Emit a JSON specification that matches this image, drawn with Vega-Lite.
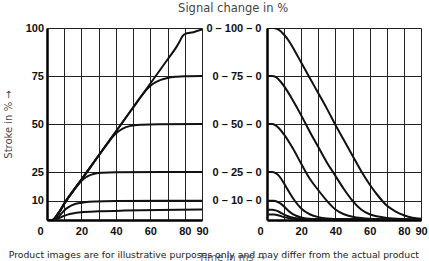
{
  "$schema": "https://vega.github.io/schema/vega-lite/v6.json",
  "background": "white",
  "padding": {"left": 3, "top": 2, "right": 0, "bottom": 0},
  "title": {"text": "Signal change in %", "font": "DejaVu Sans", "fontSize": 11.5, "fontWeight": "normal", "color": "#444", "anchor": "middle", "dx": 18, "offset": 8},
  "config": {
    "view": {"stroke": null},
    "axis": {
      "grid": true, "gridColor": "#222", "gridWidth": 1, "gridOpacity": 1,
      "domain": true, "domainColor": "#000", "domainWidth": 2.5,
      "ticks": false, "tickSize": 0,
      "labelFont": "Liberation Sans", "labelFontWeight": "bold", "labelFontSize": 11, "labelColor": "#111",
      "labelFlush": false, "labelOverlap": false, "labelBound": false
    }
  },
  "datasets": {
    "left": [
      {"c": "100", "t": 0, "v": 0}, {"c": "100", "t": 3, "v": 0}, {"c": "100", "t": 5, "v": 1.5}, {"c": "100", "t": 7, "v": 4}, {"c": "100", "t": 10, "v": 8.5}, {"c": "100", "t": 20, "v": 21}, {"c": "100", "t": 30, "v": 33.6}, {"c": "100", "t": 40, "v": 46.1}, {"c": "100", "t": 50, "v": 58.6}, {"c": "100", "t": 60, "v": 71.1}, {"c": "100", "t": 70, "v": 83.6}, {"c": "100", "t": 75, "v": 89.9}, {"c": "100", "t": 77, "v": 93}, {"c": "100", "t": 78.5, "v": 95.5}, {"c": "100", "t": 80, "v": 96.8}, {"c": "100", "t": 85, "v": 97.8}, {"c": "100", "t": 90, "v": 99.2},
      {"c": "75", "t": 0, "v": 0}, {"c": "75", "t": 3, "v": 0}, {"c": "75", "t": 5, "v": 1.5}, {"c": "75", "t": 7, "v": 4}, {"c": "75", "t": 10, "v": 8.5}, {"c": "75", "t": 20, "v": 21}, {"c": "75", "t": 30, "v": 33.6}, {"c": "75", "t": 40, "v": 46.1}, {"c": "75", "t": 50, "v": 58.6}, {"c": "75", "t": 53, "v": 62.4}, {"c": "75", "t": 56, "v": 66}, {"c": "75", "t": 59, "v": 69}, {"c": "75", "t": 62, "v": 71.2}, {"c": "75", "t": 66, "v": 73}, {"c": "75", "t": 70, "v": 74}, {"c": "75", "t": 75, "v": 74.6}, {"c": "75", "t": 80, "v": 74.9}, {"c": "75", "t": 90, "v": 75},
      {"c": "50", "t": 0, "v": 0}, {"c": "50", "t": 3, "v": 0}, {"c": "50", "t": 5, "v": 1.5}, {"c": "50", "t": 7, "v": 4}, {"c": "50", "t": 10, "v": 8.5}, {"c": "50", "t": 20, "v": 21}, {"c": "50", "t": 30, "v": 33.6}, {"c": "50", "t": 35, "v": 39.6}, {"c": "50", "t": 38, "v": 43.2}, {"c": "50", "t": 41, "v": 45.8}, {"c": "50", "t": 44, "v": 47.6}, {"c": "50", "t": 48, "v": 48.9}, {"c": "50", "t": 55, "v": 49.6}, {"c": "50", "t": 65, "v": 49.9}, {"c": "50", "t": 90, "v": 50},
      {"c": "25", "t": 0, "v": 0}, {"c": "25", "t": 3, "v": 0}, {"c": "25", "t": 5, "v": 1.5}, {"c": "25", "t": 7, "v": 4}, {"c": "25", "t": 10, "v": 8.5}, {"c": "25", "t": 15, "v": 14.8}, {"c": "25", "t": 17, "v": 17.2}, {"c": "25", "t": 19, "v": 19.4}, {"c": "25", "t": 21, "v": 21.2}, {"c": "25", "t": 24, "v": 23}, {"c": "25", "t": 27, "v": 24}, {"c": "25", "t": 32, "v": 24.6}, {"c": "25", "t": 40, "v": 24.9}, {"c": "25", "t": 90, "v": 25},
      {"c": "10", "t": 0, "v": 0}, {"c": "10", "t": 3, "v": 0}, {"c": "10", "t": 5, "v": 0.6}, {"c": "10", "t": 7, "v": 2}, {"c": "10", "t": 9, "v": 4}, {"c": "10", "t": 11, "v": 5.8}, {"c": "10", "t": 13, "v": 7}, {"c": "10", "t": 15, "v": 7.9}, {"c": "10", "t": 18, "v": 8.7}, {"c": "10", "t": 22, "v": 9.2}, {"c": "10", "t": 28, "v": 9.6}, {"c": "10", "t": 40, "v": 9.9}, {"c": "10", "t": 90, "v": 10},
      {"c": "5", "t": 0, "v": 0}, {"c": "5", "t": 3, "v": 0}, {"c": "5", "t": 5, "v": 0.3}, {"c": "5", "t": 7, "v": 1}, {"c": "5", "t": 9, "v": 1.8}, {"c": "5", "t": 12, "v": 2.8}, {"c": "5", "t": 15, "v": 3.4}, {"c": "5", "t": 20, "v": 4}, {"c": "5", "t": 30, "v": 4.5}, {"c": "5", "t": 45, "v": 4.9}, {"c": "5", "t": 65, "v": 5.2}, {"c": "5", "t": 90, "v": 5.5}
    ],
    "right": [
      {"c": "100", "t": 0, "v": 100}, {"c": "100", "t": 4, "v": 100}, {"c": "100", "t": 7, "v": 99}, {"c": "100", "t": 10, "v": 96.5}, {"c": "100", "t": 13, "v": 93}, {"c": "100", "t": 15, "v": 90}, {"c": "100", "t": 20, "v": 82}, {"c": "100", "t": 25, "v": 74}, {"c": "100", "t": 30, "v": 66}, {"c": "100", "t": 35, "v": 58}, {"c": "100", "t": 40, "v": 49.5}, {"c": "100", "t": 45, "v": 41.5}, {"c": "100", "t": 50, "v": 33.5}, {"c": "100", "t": 55, "v": 25.5}, {"c": "100", "t": 60, "v": 18.5}, {"c": "100", "t": 65, "v": 12.5}, {"c": "100", "t": 70, "v": 7.5}, {"c": "100", "t": 75, "v": 4.5}, {"c": "100", "t": 80, "v": 2.5}, {"c": "100", "t": 85, "v": 1.2}, {"c": "100", "t": 90, "v": 0.6},
      {"c": "75", "t": 0, "v": 75}, {"c": "75", "t": 3, "v": 75}, {"c": "75", "t": 5, "v": 74.5}, {"c": "75", "t": 8, "v": 72}, {"c": "75", "t": 12, "v": 67}, {"c": "75", "t": 15, "v": 62.5}, {"c": "75", "t": 20, "v": 54.5}, {"c": "75", "t": 25, "v": 46}, {"c": "75", "t": 30, "v": 38}, {"c": "75", "t": 35, "v": 30}, {"c": "75", "t": 40, "v": 23}, {"c": "75", "t": 45, "v": 16}, {"c": "75", "t": 50, "v": 10}, {"c": "75", "t": 55, "v": 5.5}, {"c": "75", "t": 60, "v": 3}, {"c": "75", "t": 65, "v": 1.8}, {"c": "75", "t": 70, "v": 1}, {"c": "75", "t": 80, "v": 0.4}, {"c": "75", "t": 90, "v": 0.2},
      {"c": "50", "t": 0, "v": 50}, {"c": "50", "t": 3, "v": 50}, {"c": "50", "t": 5, "v": 49.3}, {"c": "50", "t": 7, "v": 47.8}, {"c": "50", "t": 10, "v": 44.5}, {"c": "50", "t": 15, "v": 37.5}, {"c": "50", "t": 20, "v": 29.3}, {"c": "50", "t": 25, "v": 21.5}, {"c": "50", "t": 30, "v": 15.5}, {"c": "50", "t": 35, "v": 10}, {"c": "50", "t": 40, "v": 5.5}, {"c": "50", "t": 45, "v": 3}, {"c": "50", "t": 50, "v": 1.7}, {"c": "50", "t": 55, "v": 1}, {"c": "50", "t": 60, "v": 0.6}, {"c": "50", "t": 70, "v": 0.3}, {"c": "50", "t": 90, "v": 0.1},
      {"c": "25", "t": 0, "v": 25}, {"c": "25", "t": 3, "v": 25}, {"c": "25", "t": 5, "v": 24.4}, {"c": "25", "t": 7, "v": 23}, {"c": "25", "t": 10, "v": 19}, {"c": "25", "t": 13, "v": 14.5}, {"c": "25", "t": 16, "v": 10.3}, {"c": "25", "t": 20, "v": 6}, {"c": "25", "t": 25, "v": 3}, {"c": "25", "t": 30, "v": 1.5}, {"c": "25", "t": 35, "v": 0.8}, {"c": "25", "t": 45, "v": 0.4}, {"c": "25", "t": 90, "v": 0.1},
      {"c": "10", "t": 0, "v": 10}, {"c": "10", "t": 4, "v": 10}, {"c": "10", "t": 6, "v": 9.5}, {"c": "10", "t": 8, "v": 8.5}, {"c": "10", "t": 10, "v": 7}, {"c": "10", "t": 12, "v": 5.2}, {"c": "10", "t": 14, "v": 3.7}, {"c": "10", "t": 17, "v": 2.2}, {"c": "10", "t": 20, "v": 1.3}, {"c": "10", "t": 25, "v": 0.6}, {"c": "10", "t": 30, "v": 0.3}, {"c": "10", "t": 90, "v": 0.1},
      {"c": "5", "t": 0, "v": 5.3}, {"c": "5", "t": 3, "v": 5.3}, {"c": "5", "t": 5, "v": 5}, {"c": "5", "t": 7, "v": 4.3}, {"c": "5", "t": 9, "v": 3.3}, {"c": "5", "t": 11, "v": 2.4}, {"c": "5", "t": 14, "v": 1.5}, {"c": "5", "t": 18, "v": 0.8}, {"c": "5", "t": 25, "v": 0.4}, {"c": "5", "t": 90, "v": 0.1},
      {"c": "3", "t": 0, "v": 2.8}, {"c": "3", "t": 4, "v": 2.8}, {"c": "3", "t": 7, "v": 2.3}, {"c": "3", "t": 10, "v": 1.5}, {"c": "3", "t": 14, "v": 0.8}, {"c": "3", "t": 20, "v": 0.4}, {"c": "3", "t": 90, "v": 0.1}
    ]
  },
  "spacing": 65,
  "bounds": "flush",
  "hconcat": [
    {
      "width": 155, "height": 192,
      "data": {"name": "left"},
      "mark": {"type": "line", "interpolate": "monotone", "strokeWidth": 2, "color": "#111", "clip": true},
      "encoding": {
        "x": {"field": "t", "type": "quantitative", "scale": {"domain": [0, 90], "nice": false, "zero": false},
          "axis": {"values": [0, 10, 20, 30, 40, 50, 60, 70, 80, 90], "labelExpr": "(datum.value % 20 == 0 || datum.value == 90) ? datum.label : ''",
            "labelAlign": {"condition": {"test": "datum.value == 0", "value": "right"}, "value": "center"},
            "labelOffset": {"condition": {"test": "datum.value == 0", "value": -4}, "value": 0},
            "labelPadding": 5,
            "title": "Time in ms →", "titleFont": "DejaVu Sans", "titleFontSize": 10, "titleFontWeight": "normal", "titleColor": "#666", "titleX": 184.5, "titleY": 40, "titleAlign": "center", "titleBaseline": "alphabetic"}},
        "y": {"field": "v", "type": "quantitative", "scale": {"domain": [0, 100], "nice": false},
          "axis": {"values": [0, 10, 25, 50, 75, 100], "labelExpr": "datum.value == 0 ? '' : datum.label", "labelPadding": 3.5,
            "title": "Stroke in % →", "titleFont": "DejaVu Sans", "titleFontSize": 10, "titleFontWeight": "normal", "titleColor": "#444", "titlePadding": 12}},
        "detail": {"field": "c"}
      }
    },
    {
      "width": 154, "height": 192,
      "data": {"name": "right"},
      "mark": {"type": "line", "interpolate": "monotone", "strokeWidth": 2, "color": "#111", "clip": true},
      "encoding": {
        "x": {"field": "t", "type": "quantitative", "scale": {"domain": [0, 90], "nice": false, "zero": false},
          "axis": {"values": [0, 10, 20, 30, 40, 50, 60, 70, 80, 90], "labelExpr": "(datum.value % 20 == 0 || datum.value == 90) ? datum.label : ''",
            "labelAlign": {"condition": {"test": "datum.value == 0", "value": "right"}, "value": "center"},
            "labelOffset": {"condition": {"test": "datum.value == 0", "value": -4}, "value": 0},
            "labelPadding": 5,
            "title": "Product images are for illustrative purposes only and may differ from the actual product", "titleFont": "DejaVu Sans", "titleFontSize": 9.3, "titleFontWeight": "normal", "titleColor": "#222", "titleX": -53.7, "titleY": 37, "titleAlign": "center", "titleBaseline": "alphabetic"}},
        "y": {"field": "v", "type": "quantitative", "scale": {"domain": [0, 100], "nice": false},
          "axis": {"values": [0, 10, 25, 50, 75, 100], "labelExpr": "datum.value == 0 ? '' : '0 – ' + datum.label + ' – 0'", "labelPadding": 6, "title": null}},
        "detail": {"field": "c"}
      }
    }
  ]
}
